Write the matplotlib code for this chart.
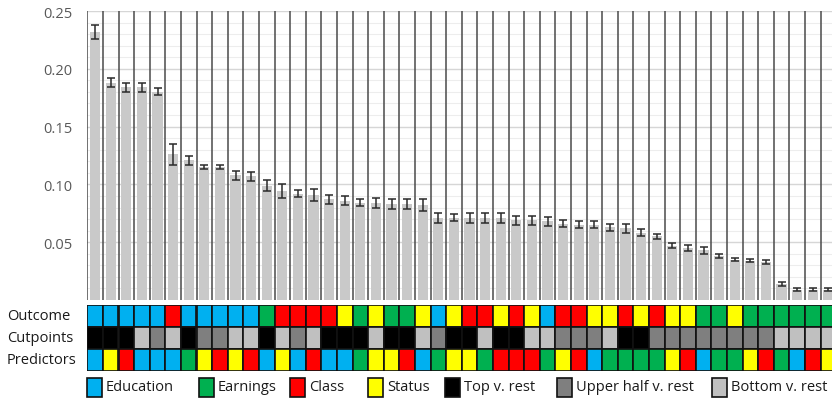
import matplotlib.pyplot as plt
from matplotlib.patches import Rectangle
import numpy as np

plt.rcParams['font.family'] = ['Open Sans', 'DejaVu Sans']

# ------------------------------------
# Datos
# ------------------------------------
valores = [0.232, 0.188, 0.184, 0.184, 0.180, 0.126, 0.121, 0.115, 0.115, 0.108,
           0.107, 0.099, 0.094, 0.092, 0.091, 0.087, 0.086, 0.084, 0.084, 0.083,
           0.083, 0.082, 0.071, 0.071, 0.071, 0.071, 0.071, 0.069, 0.069, 0.068,
           0.066, 0.065, 0.065, 0.063, 0.062, 0.058, 0.055, 0.047, 0.045, 0.043,
           0.038, 0.035, 0.034, 0.033, 0.014, 0.009, 0.009, 0.009]
errores = [0.006, 0.004, 0.004, 0.004, 0.003, 0.009, 0.004, 0.002, 0.0015, 0.004,
           0.004, 0.005, 0.006, 0.003, 0.005, 0.004, 0.004, 0.003, 0.004, 0.004,
           0.004, 0.005, 0.004, 0.003, 0.004, 0.004, 0.004, 0.004, 0.004, 0.004,
           0.003, 0.003, 0.003, 0.003, 0.004, 0.003, 0.002, 0.002, 0.003, 0.003,
           0.0015, 0.0015, 0.0015, 0.0015, 0.0015, 0.001, 0.001, 0.001]

# E=Education, G=Earnings, C=Class, S=Status
outcome    = list('EEEEECEEEEEG' 'CCCCSGSGGSES' 'CCSCSECCSSCS' 'CSSGGSGGGGGG')
predictors = list('ESCEEEGSCSCE' 'SECEEGSSCEGS' 'SGCCCGSCEGGG' 'GSCEGGSCGECS')
# T=Top v. rest, U=Upper half v. rest, B=Bottom v. rest
cutpoints  = list('TTTBUBTUUBBT' 'BUBTTTBTTBUT' 'TBTTBBUUUBTT' 'UUUUUUUUBBBB')

row_labels = ['Outcome', 'Cutpoints', 'Predictors']
legend_labels = ['Education', 'Earnings', 'Class', 'Status',
                 'Top v. rest', 'Upper half v. rest', 'Bottom v. rest']

colores = {
    'E': '#00B0F0',
    'G': '#00B050',
    'C': '#FF0000',
    'S': '#FFFF00',
    'T': '#000000',
    'U': '#7F7F7F',
    'B': '#C0C0C0',
}
legend_keys = ['E', 'G', 'C', 'S', 'T', 'U', 'B']

# ------------------------------------
# Figura
# ------------------------------------
W, H = 832, 402
fig = plt.figure(figsize=(W / 100, H / 100), dpi=100)

x0, col_w = 87.3, 15.6
x_max = -0.5 + (W - x0) / col_w
n = len(valores)
x = np.arange(n)

ax = fig.add_axes([x0 / W, (H - 301) / H, (W - x0) / W, 289 / H])
ax.set_xlim(-0.5, x_max)
ax.set_ylim(0, 0.25)

for yv in np.arange(0.01, 0.25, 0.01):
    ax.axhline(yv, color='#ededed', lw=0.8, zorder=0)
for yv in np.arange(0.05, 0.2501, 0.05):
    ax.axhline(yv, color='#d6d6d6', lw=1.0, zorder=0)

ax.bar(x, valores, width=0.66, color='#C9C9C9', zorder=2)
ax.errorbar(x, valores, yerr=errores, fmt='none', ecolor='#2a2a2a',
            elinewidth=1.1, capsize=3, capthick=1.1, zorder=3)
ax.vlines(np.arange(n + 1) - 0.5, 0, 0.25, color='#4a4a4a', lw=1.1, zorder=4)

for s in ax.spines.values():
    s.set_visible(False)
ax.set_xticks([])
ax.set_yticks(np.arange(0.05, 0.2501, 0.05))
ax.set_yticklabels(['0.05', '0.10', '0.15', '0.20', '0.25'])
ax.tick_params(axis='y', length=0, pad=11, labelsize=10.5, labelcolor='#595959')

# ------------------------------------
# Tabla de colores
# ------------------------------------
axg = fig.add_axes([x0 / W, (H - 372) / H, (W - x0) / W, 66 / H])
axg.set_xlim(-0.5, x_max)
axg.set_ylim(0, 3)
for fila, datos in enumerate([outcome, cutpoints, predictors]):
    axg.bar(x, 1, bottom=2 - fila, width=1, color=[colores[c] for c in datos],
            edgecolor='#111111', linewidth=1.2)
    fig.text(7 / W, (H - (317 + 22 * fila)) / H, row_labels[fila],
             fontsize=10.5, color='#1a1a1a', va='center', ha='left')
axg.axis('off')

# ------------------------------------
# Leyenda
# ------------------------------------
leg_x = [87, 199, 290, 368, 445, 557, 712]
for lx, key, lab in zip(leg_x, legend_keys, legend_labels):
    fig.patches.append(Rectangle((lx / W, (H - 398) / H), 15 / W, 19 / H,
                                 transform=fig.transFigure, facecolor=colores[key],
                                 edgecolor='#111111', lw=1.2))
    fig.text((lx + 19) / W, (H - 388) / H, lab, fontsize=10.5,
             color='#1a1a1a', va='center', ha='left')

fig.savefig('out.png', dpi=100)
